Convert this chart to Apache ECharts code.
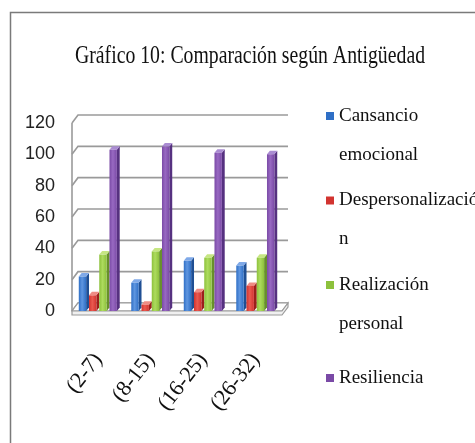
<!DOCTYPE html>
<html>
<head>
<meta charset="utf-8">
<script src="https://cdn.jsdelivr.net/npm/echarts@6/dist/echarts.min.js"></script>
<style>
  html, body { margin: 0; padding: 0; background: #fff; }
  #chart { width: 475px; height: 443px; }
</style>
</head>
<body>
<div id="chart"></div>
<script>
// data
const categories = ["(2-7)", "(8-15)", "(16-25)", "(26-32)"];
const cansancio = [22, 18, 32, 29];
const despersonalizacion = [10, 4, 12, 16];
const realizacion = [36, 38, 34, 34];
const resiliencia = [103, 105, 101, 100];
const yTicks = [0, 20, 40, 60, 80, 100, 120];
const seriesNames = ["Cansancio emocional", "Despersonalización", "Realización personal", "Resiliencia"];
// how the legend wraps the names (blank rich lines keep the icon on the first line)
const legendLabels = [
  "{g| }\n{a|Cansancio}\n{a|emocional}",
  "{g| }\n{a|Despersonalizació}\n{a|n}",
  "{g| }\n{a|Realización}\n{a|personal}",
  "{h| }\n{a|Resiliencia}\n{h| }"
];

const palette = [
  { front: "#2f6fc6", light: "#5f96e0", side: "#1f4f94", top: "#7fa9e8" },
  { front: "#d23430", light: "#ea5a50", side: "#9c1f1c", top: "#ef8c84" },
  { front: "#8dc13c", light: "#addb5e", side: "#67902a", top: "#c6e682" },
  { front: "#7a4aa6", light: "#9869c2", side: "#563180", top: "#aa8cd2" }
];

// depth of walls (3d look)
const wallDx = 6, wallDy = 8;

const chart = echarts.init(document.getElementById("chart"));

function wallRender(params, api) {
  const cs = params.coordSys;
  const v = api.value(1);
  const y = api.coord([0, v])[1];
  const x = cs.x, w = cs.width;
  const line = { stroke: "#9a9a9a", lineWidth: 1.6, fill: null };
  const children = [
    { type: "polyline", shape: { points: [[x, y], [x + wallDx, y - wallDy], [x + w + wallDx, y - wallDy]] }, style: line }
  ];
  if (v === 0) {
    // floor slab
    children.push({ type: "polygon", shape: { points: [[x, y], [x + wallDx, y - wallDy], [x + w + wallDx, y - wallDy], [x + w, y]] }, style: { fill: "#fff", stroke: "#9a9a9a", lineWidth: 1.2 } });
    children.push({ type: "polygon", shape: { points: [[x, y], [x + w, y], [x + w + wallDx, y - wallDy], [x + w + wallDx, y - wallDy + 4], [x + w, y + 4], [x, y + 4]] }, style: { fill: "#f0f0f0", stroke: "#9a9a9a", lineWidth: 1.2 } });
    children.push({ type: "line", shape: { x1: x, y1: y, x2: x, y2: cs.y }, style: line });
  }
  return { type: "group", children: children };
}

function barRender(idx) {
  const c = palette[idx];
  return function (params, api) {
    const cat = api.value(0), val = api.value(1);
    const base = api.coord([cat, 0]);
    const top = api.coord([cat, val]);
    const groupW = api.size([1, 0])[0] * 0.78;
    const w = groupW / 4;
    const x0 = base[0] - groupW / 2 + idx * w + 1;
    const fw = w * 0.72, d = w - fw, dy = 3.5;
    const grad = new echarts.graphic.LinearGradient(0, 0, 1, 0, [
      { offset: 0, color: c.front },
      { offset: 0.45, color: c.light },
      { offset: 1, color: c.front }
    ]);
    return {
      type: "group",
      children: [
        { type: "polygon", shape: { points: [[x0 + fw, top[1]], [x0 + fw + d, top[1] - dy], [x0 + fw + d, base[1] - dy], [x0 + fw, base[1]]] }, style: { fill: c.side } },
        { type: "polygon", shape: { points: [[x0, top[1]], [x0 + d, top[1] - dy], [x0 + fw + d, top[1] - dy], [x0 + fw, top[1]]] }, style: { fill: c.top } },
        { type: "rect", shape: { x: x0, y: top[1], width: fw, height: base[1] - top[1] }, style: { fill: grad } }
      ]
    };
  };
}

const barData = [cansancio, despersonalizacion, realizacion, resiliencia];

const series = [{
  type: "custom",
  name: "walls",
  renderItem: wallRender,
  data: yTicks.map(v => [0, v]),
  silent: true,
  z: 1
}];
barData.forEach((arr, i) => {
  series.push({
    type: "custom",
    name: seriesNames[i],
    renderItem: barRender(i),
    itemStyle: { color: palette[i].front },
    data: arr.map((v, j) => [j, v]),
    z: 2 + i
  });
});

const option = {
  animation: false,
  backgroundColor: "#fff",
  legend: {
    orient: "vertical",
    left: 321,
    top: 67,
    height: 376,
    icon: "rect",
    itemWidth: 8,
    itemHeight: 8,
    itemGap: -8,
    data: seriesNames,
    formatter: name => legendLabels[seriesNames.indexOf(name)],
    textStyle: {
      fontFamily: "Liberation Serif",
      fontSize: 19,
      color: "#111",
      rich: {
        a: { fontFamily: "Liberation Serif", fontSize: 19, lineHeight: 39, color: "#111" },
        g: { fontSize: 10, lineHeight: 39 },
        h: { fontSize: 10, lineHeight: 56 }
      }
    }
  },
  grid: { left: 72, right: 193, top: 123, bottom: 132 },
  xAxis: {
    type: "category",
    data: categories,
    axisLine: { show: false },
    axisTick: { show: false },
    axisLabel: {
      rotate: 52,
      margin: 45,
      fontFamily: "Liberation Serif",
      fontSize: 22,
      color: "#111"
    }
  },
  yAxis: {
    type: "value",
    min: 0,
    max: 120,
    interval: 20,
    axisLine: { show: false },
    axisTick: { show: false },
    splitLine: { show: false },
    axisLabel: {
      margin: 17,
      padding: [11, 0, 0, 0],
      fontFamily: "Liberation Sans Narrow, Liberation Sans",
      fontSize: 18,
      color: "#222"
    }
  },
  graphic: [
    {
      type: "rect",
      shape: { x: 10.5, y: 12.5, width: 480, height: 440 },
      style: { fill: null, stroke: "#7a7a7a", lineWidth: 1.5 },
      z: -1
    },
    {
      type: "text",
      x: 250,
      y: 56,
      scaleX: 0.76,
      style: {
        text: "Gráfico 10: Comparación según Antigüedad",
        x: 0,
        y: 0,
        textAlign: "center",
        textVerticalAlign: "middle",
        align: "center",
        verticalAlign: "middle",
        font: '26px "Liberation Serif"',
        fill: "#111"
      }
    }
  ],
  series: series
};

chart.setOption(option);
</script>
</body>
</html>
